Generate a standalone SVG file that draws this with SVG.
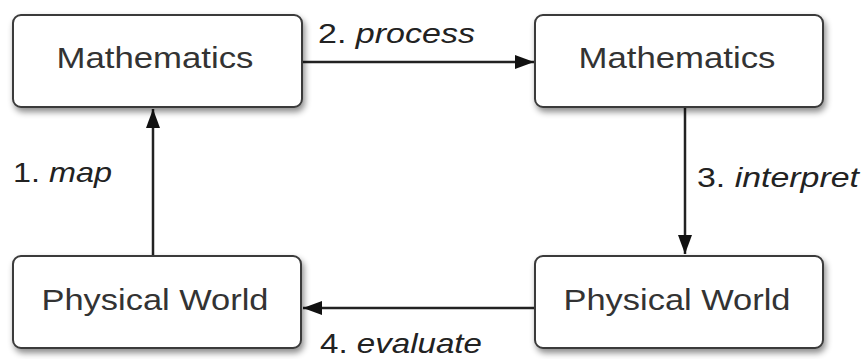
<svg xmlns="http://www.w3.org/2000/svg" width="864" height="359" viewBox="0 0 864 359">
  <style>
    .box { fill: #ffffff; stroke: #3a3a3a; stroke-width: 2; filter: url(#shadow); }
    .node-text { font-family: "Liberation Sans", Arial, sans-serif; font-size: 30px; fill: #333333; text-anchor: middle; }
    .lbl { font-family: "Liberation Sans", Arial, sans-serif; font-size: 28px; fill: #222222; }
    .edge { stroke: #222222; stroke-width: 2.5; fill: none; marker-end: url(#arrow); }
  </style>
  <defs>
    <filter id="shadow" x="-10%" y="-10%" width="125%" height="135%">
      <feDropShadow dx="2" dy="4" stdDeviation="3" flood-color="#000000" flood-opacity="0.45"/>
    </filter>
    <marker id="arrow" markerUnits="userSpaceOnUse" markerWidth="20" markerHeight="16" refX="19" refY="7" orient="auto">
      <path d="M0,0 L19,7 L0,14 Z" fill="#111111"/>
    </marker>
  </defs>
  <rect width="864" height="359" fill="#ffffff"/>

  <g id="connectors">
    <line class="edge" x1="302" y1="62" x2="534" y2="62"/>
    <line class="edge" x1="685" y1="107" x2="685" y2="254"/>
    <line class="edge" x1="535" y1="308" x2="303" y2="308"/>
    <line class="edge" x1="153" y1="256" x2="153" y2="109"/>
    <text class="lbl" x="318" y="43" textLength="157" lengthAdjust="spacingAndGlyphs">2. <tspan font-style="italic">process</tspan></text>
    <text class="lbl" x="697" y="187" textLength="162" lengthAdjust="spacingAndGlyphs">3. <tspan font-style="italic">interpret</tspan></text>
    <text class="lbl" x="320" y="353" textLength="162" lengthAdjust="spacingAndGlyphs">4. <tspan font-style="italic">evaluate</tspan></text>
    <text class="lbl" x="13" y="182" textLength="99" lengthAdjust="spacingAndGlyphs">1. <tspan font-style="italic">map</tspan></text>
  </g>

  <g id="math-left">
    <rect class="box" x="13" y="15" width="289" height="92" rx="8"/>
    <text class="node-text" x="155" y="68" textLength="197" lengthAdjust="spacingAndGlyphs">Mathematics</text>
  </g>
  <g id="math-right">
    <rect class="box" x="535" y="15" width="288" height="92" rx="8"/>
    <text class="node-text" x="677" y="68" textLength="197" lengthAdjust="spacingAndGlyphs">Mathematics</text>
  </g>
  <g id="phys-left">
    <rect class="box" x="13" y="256" width="288" height="92" rx="8"/>
    <text class="node-text" x="155" y="310" textLength="227" lengthAdjust="spacingAndGlyphs">Physical World</text>
  </g>
  <g id="phys-right">
    <rect class="box" x="535" y="256" width="288" height="92" rx="8"/>
    <text class="node-text" x="677" y="310" textLength="227" lengthAdjust="spacingAndGlyphs">Physical World</text>
  </g>
</svg>
